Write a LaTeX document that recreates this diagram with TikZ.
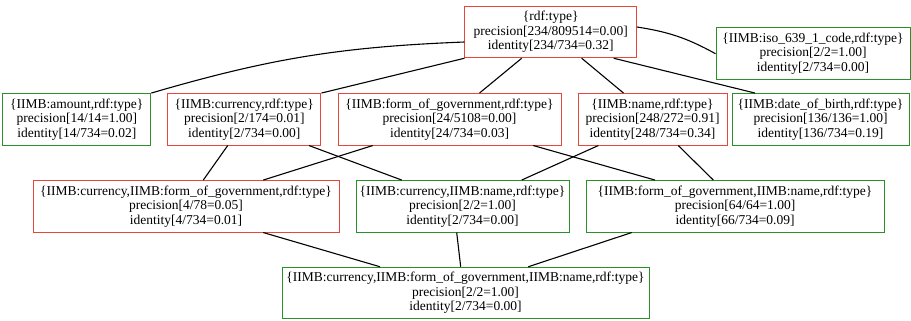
\documentclass[tikz,border=0pt]{standalone}
\usepackage{fontspec}
\setmainfont{Liberation Serif}
\definecolor{boxred}{RGB}{232,70,58}
\definecolor{boxgreen}{RGB}{40,145,40}
\tikzset{
  lattice/.style={draw, line width=1pt, rectangle, inner sep=0pt, align=center,
    minimum height=51.5pt, font=\fontsize{13.5}{14.5}\selectfont},
  redbox/.style={lattice, draw=boxred},
  greenbox/.style={lattice, draw=boxgreen},
  link/.style={draw=black, line width=1.1pt}
}
\begin{document}
\begin{tikzpicture}[x=1pt,y=-1pt]
\useasboundingbox (0,0) rectangle (911,321);
% top
\node[redbox, minimum width=171.5pt] (rdf) at (550.7,32) {\{rdf:type\}\\precision[234/809514=0.00]\\identity[234/734=0.32]};
\node[greenbox, minimum width=194pt] (iso) at (813,53.7) {\{IIMB:iso\_639\_1\_code,rdf:type\}\\precision[2/2=1.00]\\identity[2/734=0.00]};
% row 2
\node[greenbox, minimum width=148pt] (amount) at (76.8,119.3) {\{IIMB:amount,rdf:type\}\\precision[14/14=1.00]\\identity[14/734=0.02]};
\node[redbox, minimum width=153.3pt] (cur) at (244.3,119.3) {\{IIMB:currency,rdf:type\}\\precision[2/174=0.01]\\identity[2/734=0.00]};
\node[redbox, minimum width=223pt] (form) at (449.5,119.3) {\{IIMB:form\_of\_government,rdf:type\}\\precision[24/5108=0.00]\\identity[24/734=0.03]};
\node[redbox, minimum width=149pt] (name) at (652.5,119.3) {\{IIMB:name,rdf:type\}\\precision[248/272=0.91]\\identity[248/734=0.34]};
\node[greenbox, minimum width=177pt] (date) at (820.5,119.3) {\{IIMB:date\_of\_birth,rdf:type\}\\precision[136/136=1.00]\\identity[136/734=0.19]};
% row 3
\node[redbox, minimum width=306pt] (curform) at (186,206.3) {\{IIMB:currency,IIMB:form\_of\_government,rdf:type\}\\precision[4/78=0.05]\\identity[4/734=0.01]};
\node[greenbox, minimum width=213pt] (curname) at (462.5,206.3) {\{IIMB:currency,IIMB:name,rdf:type\}\\precision[2/2=1.00]\\identity[2/734=0.00]};
\node[greenbox, minimum width=298pt] (formname) at (735,206.3) {\{IIMB:form\_of\_government,IIMB:name,rdf:type\}\\precision[64/64=1.00]\\identity[66/734=0.09]};
% bottom
\node[greenbox, minimum width=367pt] (all) at (465.5,293) {\{IIMB:currency,IIMB:form\_of\_government,IIMB:name,rdf:type\}\\precision[2/2=1.00]\\identity[2/734=0.00]};
% edges top -> row 2
\draw[link] ([yshift=-10pt]rdf.west) to[bend right=7] (amount.north east);
\draw[link] (rdf.south west) -- (cur.north east);
\draw[link] ([xshift=-29pt]rdf.south) -- ([xshift=30pt]form.north);
\draw[link] ([xshift=31pt]rdf.south) -- ([xshift=-29pt]name.north);
\draw[link] ([xshift=63pt]rdf.south) -- ([xshift=-65.5pt]date.north);
\draw[link] ([yshift=5pt]rdf.east) to[bend left=10] (iso.west);
% row 2 -> row 3
\draw[link] ([xshift=-16.6pt]cur.south) -- ([xshift=17.3pt]curform.north);
\draw[link] ([xshift=64.7pt]cur.south) -- ([xshift=-60.8pt]curname.north);
\draw[link] ([xshift=-76.8pt]form.south) -- ([xshift=77.3pt]curform.north);
\draw[link] ([xshift=83.8pt]form.south) -- ([xshift=-80pt]formname.north);
\draw[link] ([xshift=-54.2pt]name.south) -- ([xshift=59.2pt]curname.north);
\draw[link] ([xshift=25.8pt]name.south) -- ([xshift=-21.7pt]formname.north);
% row 3 -> bottom
\draw[link] ([xshift=77.3pt]curform.south) -- ([xshift=-85.5pt]all.north);
\draw[link] ([xshift=-5.8pt]curname.south) -- ([xshift=-4.8pt]all.north);
\draw[link] ([xshift=-103.3pt]formname.south) -- ([xshift=62.8pt]all.north);
\end{tikzpicture}
\end{document}
